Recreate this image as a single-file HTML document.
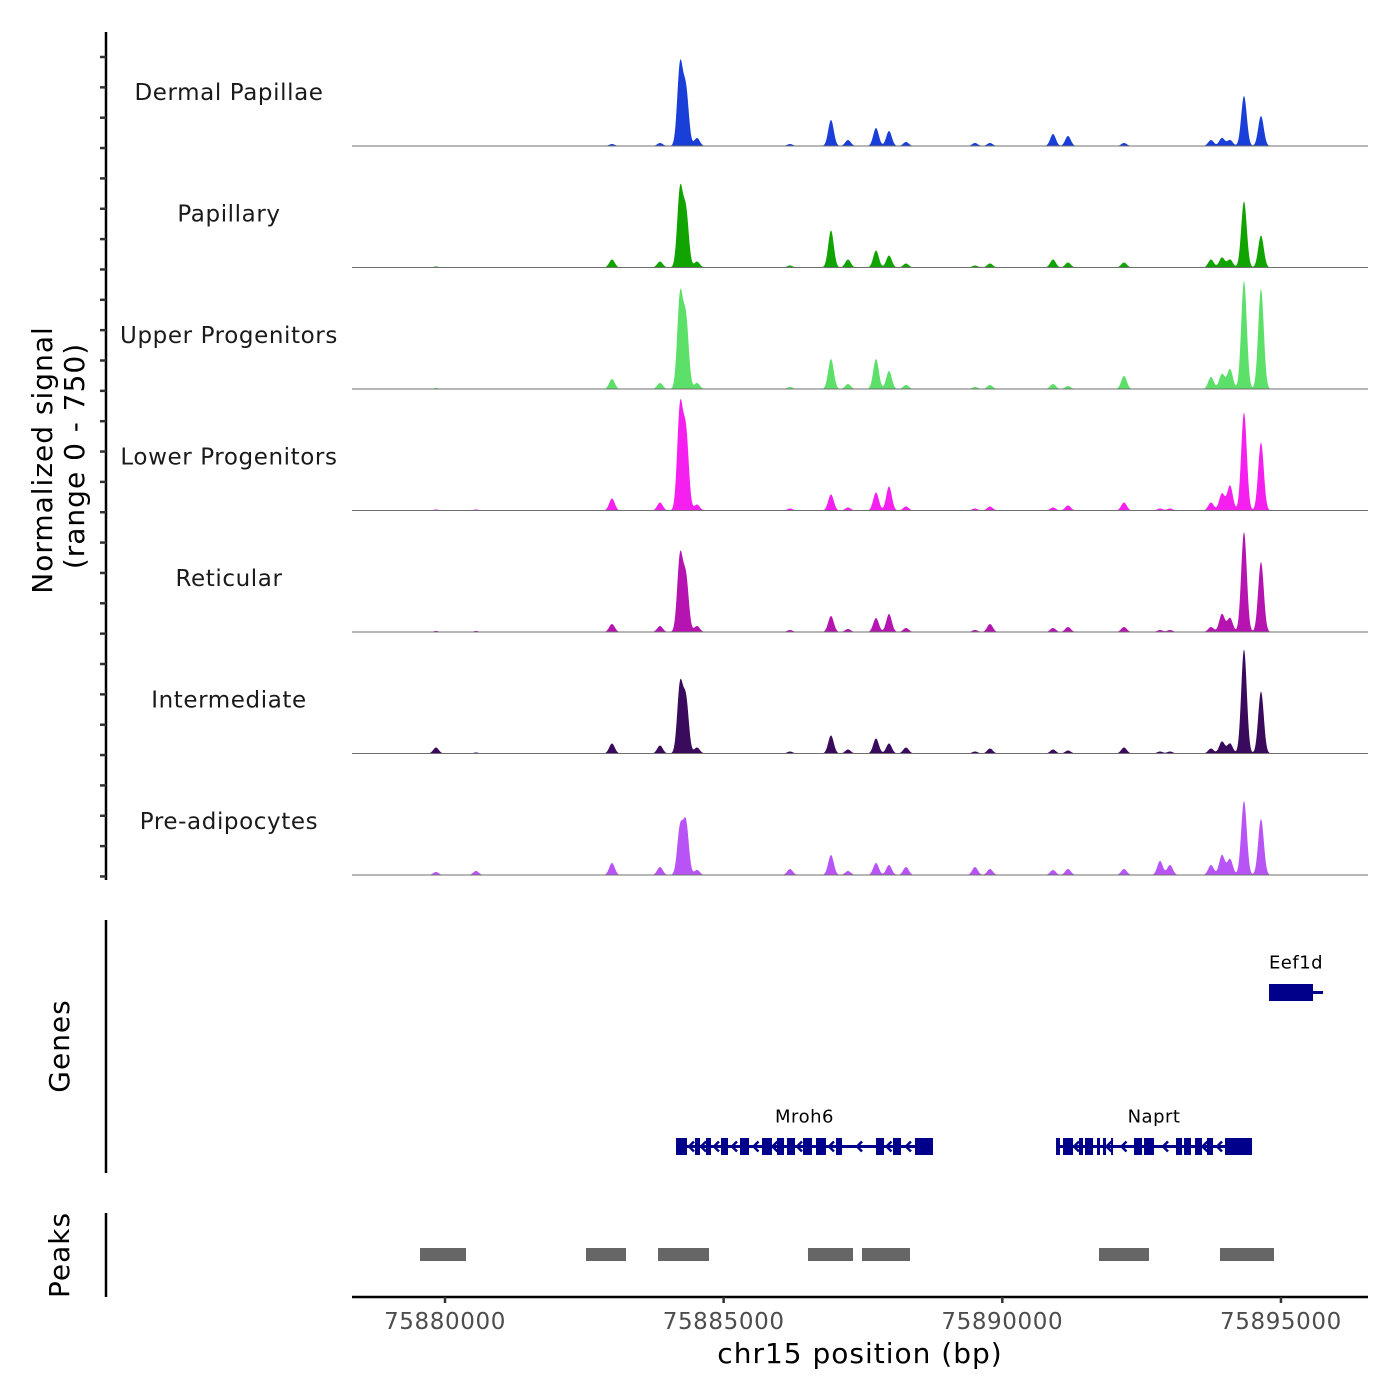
<!DOCTYPE html>
<html><head><meta charset="utf-8"><style>
html,body{margin:0;padding:0;background:#fff;}
svg{display:block;font-family:"DejaVu Sans","Liberation Sans",sans-serif;}
</style></head><body>
<svg id="chart" width="1400" height="1400" viewBox="0 0 1400 1400">
<g id="tracks"></g>
<g id="axes"></g>
<g id="genes"></g>
<g id="peaks"></g>
</svg>
<script>
const NS="http://www.w3.org/2000/svg";
const trackNames=["Dermal Papillae","Papillary","Upper Progenitors","Lower Progenitors","Reticular","Intermediate","Pre-adipocytes"];
const trackColors=["#1a3fd9","#11a400","#5ce06a","#f51ff0","#b514b0","#3a0a5c","#b854f5"];
const peakPositions=[75879838,75880556,75882996,75883858,75884217,75884324,75884522,75886190,75886926,75887231,75887734,75887967,75888272,75889510,75889779,75890910,75891179,75892184,75892830,75893009,75893745,75893942,75894086,75894337,75894642];
const dermalValues=[0,0,12,18,480,330,48,12,156,36,108,90,24,18,18,72,60,18,0,0,36,48,36,300,180];
const papillaryValues=[6,0,48,36,462,330,36,12,222,48,102,72,24,12,24,48,30,30,0,0,48,60,48,396,192];
const upperValues=[6,0,60,36,552,410,36,12,180,30,180,108,24,12,24,30,18,78,0,0,72,90,120,648,600];
const lowerValues=[6,6,72,48,612,460,36,12,96,18,108,144,24,12,24,18,30,48,12,12,48,102,150,588,408];
const reticularValues=[6,6,48,36,450,320,36,12,96,18,84,108,24,12,48,24,30,30,12,12,30,108,84,600,420];
const intermediateValues=[36,6,60,48,408,320,36,12,108,24,90,60,36,12,30,24,18,36,12,12,30,72,60,624,372];
const preadipValues=[18,24,72,48,280,310,30,36,120,24,72,60,48,48,36,30,36,36,84,60,60,120,96,444,336];
const trackValues=[dermalValues,papillaryValues,upperValues,lowerValues,reticularValues,intermediateValues,preadipValues];
const xTicks=[75880000,75885000,75890000,75895000];
const peakStarts=[75879551,75882530,75883822,75886513,75887482,75891735,75893906];
const peakEnds=[75880377,75883248,75884737,75887321,75888344,75892632,75894875];
const mroh6Exons=[[75884145,75884342],[75884486,75884576],[75884683,75884773],[75884952,75885078],[75885293,75885455],[75885688,75885867],[75885957,75886083],[75886137,75886280],[75886424,75886585],[75886657,75886836],[75887016,75887124],[75887734,75887877],[75888039,75888182],[75888433,75888756]];
const naprtExons=[[75890964,75891035],[75891089,75891269],[75891376,75891448],[75891484,75891628],[75891699,75891753],[75891807,75891861],[75891951,75891986],[75892363,75892507],[75892543,75892722],[75893117,75893225],[75893261,75893386],[75893458,75893583],[75893673,75893781],[75893996,75894481]];
const eef1dExons=[[75894786,75895575]];
const eef1dEnd=75895755;

const X0=352,X1=1368,BP0=75878331,BP1=75896562;
const xs=bp=>X0+(bp-BP0)/(BP1-BP0)*(X1-X0);
const TRACK_H=121.5,BASE0=146;
const ys=v=>v/750*125;
function mk(tag,attrs,parent){const e=document.createElementNS(NS,tag);for(const k in attrs)e.setAttribute(k,attrs[k]);parent.appendChild(e);return e;}

const tracks=document.getElementById('tracks');
const dataEnd=75895850;
trackValues.forEach((vals,t)=>{
  const base=BASE0+t*TRACK_H;
  let d=`M${X0},${base}`;
  for(let x=X0;x<=xs(dataEnd);x+=0.5){
    const bp=BP0+(x-X0)/(X1-X0)*(BP1-BP0);
    let s=0;
    peakPositions.forEach((p,i)=>{const z=(bp-p)/50;s+=vals[i]*Math.exp(-0.5*z*z);});
    d+=`L${x.toFixed(1)},${(base-ys(s)).toFixed(2)}`;
  }
  d+=`L${xs(dataEnd)},${base}Z`;
  const p=mk('path',{d:d,fill:trackColors[t]},tracks);
  
  
  const bl=mk('line',{x1:X0,x2:X1,y1:base,y2:base,stroke:'#6f6f6f','stroke-width':1},tracks);
  
  
  const lb=mk('text',{x:229,y:base-46,'text-anchor':'middle','font-size':23,fill:'#1a1a1a','letter-spacing':'0.6'},tracks);
  lb.textContent=trackNames[t];
  
  
});

const axes=document.getElementById('axes');
mk('line',{x1:106,x2:106,y1:32,y2:880,stroke:'#000','stroke-width':2.5},axes);
for(let y=57;y<=880;y+=30.35){mk('line',{x1:100,x2:106,y1:y,y2:y,stroke:'#333','stroke-width':2.5},axes);}
mk('line',{x1:106,x2:106,y1:920,y2:1173,stroke:'#000','stroke-width':2.5},axes);
mk('line',{x1:106,x2:106,y1:1213,y2:1297,stroke:'#000','stroke-width':2.5},axes);
mk('line',{x1:X0,x2:X1,y1:1297,y2:1297,stroke:'#000','stroke-width':2.5},axes);
xTicks.forEach(v=>{
  const x=xs(v);
  mk('line',{x1:x,x2:x,y1:1297,y2:1303,stroke:'#333','stroke-width':2.5},axes);
  const t=mk('text',{x:x,y:1329,'text-anchor':'middle','font-size':23,fill:'#4d4d4d','letter-spacing':'0.6'},axes);
  t.textContent=v;
  
  
});
const xt=mk('text',{x:860,y:1363,'text-anchor':'middle','font-size':28,fill:'#000','letter-spacing':'1'},axes);
xt.textContent='chr15 position (bp)';


const yt=mk('text',{transform:'translate(52,460) rotate(-90)','text-anchor':'middle','font-size':28,fill:'#000','letter-spacing':'1'},axes);
yt.textContent='Normalized signal';


const yt2=mk('text',{transform:'translate(84,456) rotate(-90)','text-anchor':'middle','font-size':28,fill:'#000','letter-spacing':'1'},axes);
yt2.textContent='(range 0 - 750)';


const gt=mk('text',{transform:'translate(69,1046) rotate(-90)','text-anchor':'middle','font-size':28,fill:'#000','letter-spacing':'1'},axes);
gt.textContent='Genes';


const pt=mk('text',{transform:'translate(69,1255) rotate(-90)','text-anchor':'middle','font-size':28,fill:'#000','letter-spacing':'1'},axes);
pt.textContent='Peaks';



const genes=document.getElementById('genes');
function drawGene(name,exons,yc,strand,lineEnd){
  const g=mk('g',{},genes);
  
  
  const s=exons[0][0],e=lineEnd||exons[exons.length-1][1];
  mk('line',{x1:xs(s),x2:xs(e),y1:yc,y2:yc,stroke:'#00008b','stroke-width':3},g);
  exons.forEach(ex=>{mk('rect',{x:xs(ex[0]),y:yc-8.5,width:Math.max(2,xs(ex[1])-xs(ex[0])),height:17,fill:'#00008b'},g);});
  if(strand<0){
    for(let i=0;i<exons.length-1;i++){
      const a=xs(exons[i][1]),b=xs(exons[i+1][0]);
      if(b-a>5){const m=(a+b)/2;mk('path',{d:`M${m+3},${yc-5}L${m-2},${yc}L${m+3},${yc+5}`,stroke:'#00008b','stroke-width':2.5,fill:'none'},g);}
    }
  }
  const lb=mk('text',{x:(xs(s)+xs(e))/2,y:yc-24,'text-anchor':'middle','font-size':18,fill:'#000','letter-spacing':'0.5'},g);
  lb.textContent=name;
}
drawGene('Mroh6',mroh6Exons,1146.5,-1);
drawGene('Naprt',naprtExons,1146.5,-1);
drawGene('Eef1d',eef1dExons,992.5,1,eef1dEnd);

const peaks=document.getElementById('peaks');
peakStarts.forEach((s,i)=>{
  const r=mk('rect',{x:xs(s),y:1248,width:xs(peakEnds[i])-xs(s),height:13,fill:'#666'},peaks);
  
  
});
</script>
</body></html>
